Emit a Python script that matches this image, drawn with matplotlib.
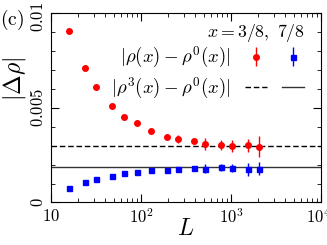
import numpy as np
import matplotlib.pyplot as plt
import matplotlib.transforms as mtransforms
from matplotlib.legend_handler import HandlerTuple
from matplotlib.ticker import MultipleLocator

plt.rcParams['mathtext.fontset'] = 'cm'
plt.rcParams['font.family'] = 'serif'
plt.rcParams['font.serif'] = ['DejaVu Serif']

L = np.array([16, 24, 32, 48, 64, 90, 128, 192, 256, 384, 512, 768, 1024, 1536, 2048])
red = np.array([9.07, 7.12, 6.10, 5.08, 4.53, 4.17, 3.78, 3.44, 3.36, 3.27,
                3.09, 3.04, 2.99, 3.01, 2.95]) * 1e-3
red_err = np.array([0, 0, 0, 0, 0, 0, 0.05, 0.1, 0.2, 0.15,
                    0.3, 0.26, 0.3, 0.35, 0.57]) * 1e-3
blue = np.array([0.75, 1.07, 1.25, 1.42, 1.53, 1.61, 1.70, 1.72, 1.76, 1.83,
                 1.79, 1.85, 1.81, 1.76, 1.79]) * 1e-3
blue_err = np.array([0, 0, 0, 0, 0, 0, 0, 0, 0.05, 0.1,
                     0.25, 0.2, 0.2, 0.35, 0.35]) * 1e-3
rho3_a = 2.97e-3
rho3_b = 1.85e-3

fig = plt.figure(figsize=(3.27, 2.45), dpi=100)
ax = fig.add_axes([0.156, 0.1735, 0.826, 0.7735])

eb_r = ax.errorbar(L, red, yerr=red_err, fmt='o', color='red', ms=4.0,
                   elinewidth=1.0, capsize=0)
eb_b = ax.errorbar(L, blue, yerr=blue_err, fmt='s', color='blue', ms=3.6,
                   elinewidth=1.0, capsize=0)
l_a = ax.axhline(rho3_a, color='black', ls=(0, (4, 2)), lw=1.0)
l_b = ax.axhline(rho3_b, color='#333333', ls='-', lw=1.0)

ax.set_xscale('log')
ax.set_xlim(10, 1e4)
ax.set_ylim(0, 0.01)
ax.set_xticks([10, 100, 1000, 10000])
ax.set_xticklabels([r'$10$', r'$10^2$', r'$10^3$', r'$10^4$'])
ax.set_yticks([0, 0.005, 0.01])
ax.set_yticklabels([r'$0$', r'$0.005$', r'$0.01$'], rotation=90, va='center')
ax.yaxis.set_minor_locator(MultipleLocator(0.001))
ax.tick_params(which='both', direction='in', top=True, right=True, labelsize=12)
ax.tick_params(which='major', length=6, width=0.8)
ax.tick_params(which='minor', length=3, width=0.6)
ax.tick_params(axis='x', pad=4)
ax.tick_params(axis='y', pad=3)

# nudge edge labels a little, as in the original
top_lab = ax.get_yticklabels()[-1]
top_lab.set_transform(top_lab.get_transform()
                      + mtransforms.ScaledTranslation(0, -0.04, fig.dpi_scale_trans))
right_lab = ax.get_xticklabels()[-1]
right_lab.set_transform(right_lab.get_transform()
                        + mtransforms.ScaledTranslation(-0.025, 0, fig.dpi_scale_trans))

ax.set_xlabel(r'$L$', fontsize=17, va='top')
ax.xaxis.set_label_coords(0.5, -0.075)
ax.set_ylabel(r'$|\Delta\rho|$', fontsize=17, va='center')
ax.yaxis.set_label_coords(-0.135, 0.65)

leg = ax.legend(handles=[(eb_r, eb_b), (l_a, l_b)],
                labels=[r'$|\rho(x)-\rho^0(x)|$', r'$|\rho^3(x)-\rho^0(x)|$'],
                handler_map={tuple: HandlerTuple(ndivide=None, pad=0.85)},
                markerfirst=False, handlelength=3.1, frameon=False,
                loc='upper right', bbox_to_anchor=(0.935, 0.83),
                fontsize=13.5, borderaxespad=0.0, borderpad=0.0,
                labelspacing=0.3, handletextpad=0.8)

ax.text(0.941, 0.894, r'$x=3/8,\ 7/8$', transform=ax.transAxes,
        fontsize=12.8, ha='right', va='center')

fig.text(0.036, 0.918, r'$\mathrm{(c)}$', fontsize=14, va='center', ha='center')

fig.savefig('out.png', dpi=100)
